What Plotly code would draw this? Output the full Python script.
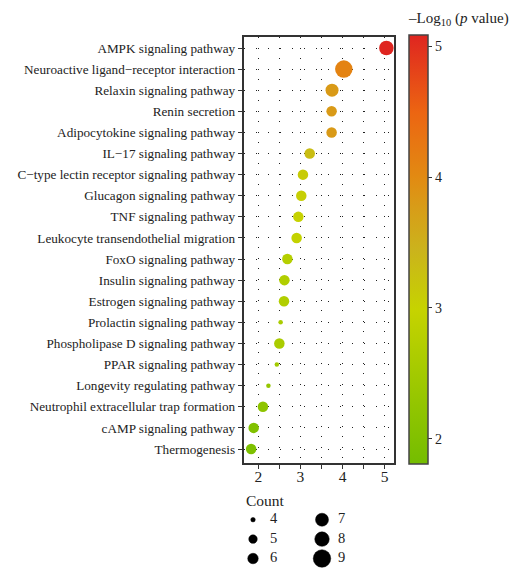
import plotly.graph_objects as go

pathways = [
    "AMPK signaling pathway",
    "Neuroactive ligand\u2212receptor interaction",
    "Relaxin signaling pathway",
    "Renin secretion",
    "Adipocytokine signaling pathway",
    "IL\u221217 signaling pathway",
    "C\u2212type lectin receptor signaling pathway",
    "Glucagon signaling pathway",
    "TNF signaling pathway",
    "Leukocyte transendothelial migration",
    "FoxO signaling pathway",
    "Insulin signaling pathway",
    "Estrogen signaling pathway",
    "Prolactin signaling pathway",
    "Phospholipase D signaling pathway",
    "PPAR signaling pathway",
    "Longevity regulating pathway",
    "Neutrophil extracellular trap formation",
    "cAMP signaling pathway",
    "Thermogenesis",
]
x_values = [5.04, 4.03, 3.75, 3.74, 3.74, 3.22, 3.06, 3.02, 2.95, 2.91,
            2.69, 2.62, 2.61, 2.53, 2.50, 2.44, 2.24, 2.11, 1.89, 1.83]
counts = [8, 9, 7, 6, 6, 6, 6, 6, 6, 6, 6, 6, 6, 4, 6, 4, 4, 6, 6, 6]
neglog10p = [5.1, 4.1, 3.8, 3.8, 3.8, 3.3, 3.1, 3.05, 3.0, 2.95,
             2.75, 2.7, 2.7, 2.6, 2.6, 2.5, 2.3, 2.2, 2.0, 1.95]
x_ticks = [2, 3, 4, 5]
cbar_ticks = [2, 3, 4, 5]
legend_counts = [4, 5, 6, 7, 8, 9]

size_map = {4: 4.5, 5: 8.5, 6: 10.5, 7: 13, 8: 14.5, 9: 17.5}
cmin, cmax = 1.81, 5.09
colorscale = [
    [0.0, "#74BD00"],
    [0.18, "#9CC800"],
    [0.36, "#C6D300"],
    [0.50, "#CBB31C"],
    [0.60, "#D89C18"],
    [0.67, "#E28A12"],
    [0.82, "#EC6512"],
    [1.0, "#DF2520"],
]

W, H = 521, 576
FONT = "Liberation Serif"
px_l, px_r, px_t, px_b = 243.5, 394, 37, 463
cb_top, cb_bot = 34.5, 463

fig = go.Figure()

fig.add_trace(go.Scatter(
    x=x_values, y=pathways, mode="markers",
    marker=dict(
        size=[size_map[c] for c in counts],
        color=neglog10p, colorscale=colorscale, cmin=cmin, cmax=cmax,
        line=dict(width=0), opacity=1,
        colorbar=dict(
            tickvals=cbar_ticks, ticks="outside", ticklen=4, tickcolor="#333",
            tickfont=dict(family=FONT, size=14, color="#222"),
            thickness=19, thicknessmode="pixels",
            len=(cb_bot - cb_top) / H, lenmode="fraction",
            x=409 / W, xanchor="left", xref="paper",
            y=1 - cb_top / H, yanchor="top", yref="paper",
            outlinewidth=1.5, outlinecolor="#444",
            xpad=0, ypad=0,
        ),
    ),
    xaxis="x", yaxis="y", showlegend=False, hoverinfo="skip",
))

# Count legend drawn in a small auxiliary panel
cols = [i // 3 for i in range(len(legend_counts))]
rows = [i % 3 for i in range(len(legend_counts))]
fig.add_trace(go.Scatter(
    x=[23 + 69 * c for c in cols], y=rows, mode="markers",
    marker=dict(size=[size_map[c] for c in legend_counts], color="#000000",
                opacity=1, line=dict(width=0.5, color="#000000")),
    xaxis="x2", yaxis="y2", showlegend=False, hoverinfo="skip",
))
fig.add_trace(go.Scatter(
    x=[40 + 68 * c for c in cols], y=rows, mode="text",
    text=[str(c) for c in legend_counts], textposition="middle right",
    textfont=dict(family=FONT, size=14.5, color="#222"),
    xaxis="x2", yaxis="y2", showlegend=False, hoverinfo="skip",
))

n = len(pathways)
row_px = (449 - 48) / (n - 1)
y_top = -(48 - px_t) / row_px
y_bot = (n - 1) + (px_b - 449) / row_px
x_per = (384.7 - 258.3) / 3
x_lo = 2 - (258.3 - px_l) / x_per
x_hi = 5 + (px_r - 384.7) / x_per

fig.update_layout(
    width=W, height=H, margin=dict(l=0, r=0, t=0, b=0),
    paper_bgcolor="white", plot_bgcolor="white",
    font=dict(family=FONT, color="#222"),
    xaxis=dict(
        domain=[px_l / W, px_r / W], range=[x_lo, x_hi],
        tickvals=x_ticks, ticks="outside", ticklen=4, tickcolor="#333", tickwidth=1,
        ticklabelstandoff=-5,
        tickfont=dict(family=FONT, size=15.5, color="#222"),
        showline=True, linecolor="#333", linewidth=1.5, mirror=True,
        showgrid=True, gridcolor="#222", gridwidth=1, griddash="1px,9.5px",
        minor=dict(dtick=0.5, showgrid=True, gridcolor="#222", gridwidth=1, griddash="1px,9.5px",
                   ticks="outside", ticklen=4, tickcolor="#333", tickwidth=1),
        zeroline=False, fixedrange=True,
    ),
    yaxis=dict(
        domain=[1 - px_b / H, 1 - px_t / H], range=[y_bot, y_top],
        categoryorder="array", categoryarray=pathways, type="category",
        ticks="outside", ticklen=4, tickcolor="#333", tickwidth=1,
        tickfont=dict(family=FONT, size=13.2, color="#222"),
        showline=True, linecolor="#333", linewidth=1.5, mirror=True,
        showgrid=True, gridcolor="#222", gridwidth=1, griddash="1px,11px",
        zeroline=False, fixedrange=True,
    ),
    xaxis2=dict(domain=[230 / W, 360 / W], range=[0, 130], visible=False, fixedrange=True),
    yaxis2=dict(domain=[0, 1 - 510 / H], range=[2.9, -0.5], visible=False, fixedrange=True),
    annotations=[
        dict(text="Count", x=244 / W, y=1 - 500 / H, xref="paper", yref="paper",
             xanchor="left", yanchor="middle", showarrow=False,
             font=dict(family=FONT, size=15.5, color="#222")),
        dict(text="\u2013Log<sub>10</sub> (<i>p</i> value)", x=406 / W, y=1 - 19 / H,
             xref="paper", yref="paper", xanchor="left", yanchor="middle", showarrow=False,
             font=dict(family=FONT, size=15, color="#222")),
    ],
)

fig.write_html("out.html")
